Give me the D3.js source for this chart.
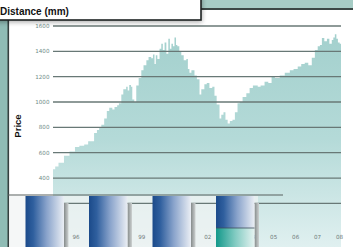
<!DOCTYPE html>
<html>
  <head>
    <script src="https://d3js.org/d3.v7.min.js"></script>
    <style>
      body { margin: 0; background: #fff; }
      svg { display: block; }
    </style>
  </head>
  <body>
    <svg width="353" height="247"></svg>
    <script>
      // price series (decimal years)
      const priceDates = [
        1995.0, 1995.1, 1995.25, 1995.5, 1995.75,
        1996.0, 1996.2, 1996.42, 1996.6, 1996.87,
        1997.0, 1997.1, 1997.2, 1997.33, 1997.45, 1997.56, 1997.7, 1997.8, 1997.92,
        1998.0, 1998.11, 1998.2, 1998.33, 1998.4, 1998.47, 1998.55, 1998.61, 1998.7, 1998.79, 1998.9,
        1999.02, 1999.12, 1999.25, 1999.35, 1999.47, 1999.55, 1999.62, 1999.68, 1999.75, 1999.85, 1999.93,
        2000.0, 2000.08, 2000.16, 2000.25, 2000.32, 2000.39, 2000.46, 2000.53, 2000.6, 2000.66, 2000.75, 2000.84, 2000.95,
        2001.07, 2001.14, 2001.21, 2001.3, 2001.44, 2001.55, 2001.67, 2001.75, 2001.89,
        2002.0, 2002.12, 2002.25, 2002.35, 2002.45, 2002.58, 2002.66, 2002.76, 2002.85, 2002.95,
        2003.05, 2003.17, 2003.28, 2003.4, 2003.5, 2003.63, 2003.8, 2003.95,
        2004.1, 2004.32, 2004.45, 2004.63, 2004.8, 2004.95,
        2005.1, 2005.32, 2005.55, 2005.78, 2005.95,
        2006.14, 2006.3, 2006.46, 2006.62, 2006.78, 2006.92,
        2007.05, 2007.15, 2007.24, 2007.35, 2007.47, 2007.58, 2007.69, 2007.76, 2007.83, 2007.9, 2007.97,
        2008.05, 2008.11
      ];
      const priceValues = [
        470, 490, 520, 575, 610,
        645, 655, 665, 690, 755,
        780, 800, 820, 870, 930, 955, 940, 960, 975,
        990, 1060, 1100, 1120, 1090, 1135, 1120, 1020, 1000, 1130, 1190,
        1250, 1290, 1330, 1355, 1345, 1375, 1300, 1370, 1340, 1420, 1460,
        1410, 1470, 1380, 1500, 1420, 1460, 1440, 1510, 1450, 1440, 1400, 1370, 1330,
        1340, 1260, 1230, 1250, 1210, 1180, 1060, 1100, 1140,
        1150, 1110, 1120, 1050, 980, 870, 900, 920, 860, 830,
        850, 860, 920, 990, 1000, 1040, 1070, 1110,
        1130, 1120, 1130, 1160, 1150, 1200,
        1190, 1210, 1230, 1250, 1260,
        1280, 1300, 1310, 1290, 1350, 1410,
        1440, 1450, 1505, 1480, 1500, 1460, 1490, 1510, 1535, 1500, 1470,
        1460, 1450
      ];
      const priceTicks = [200, 400, 600, 800, 1000, 1200, 1400, 1600];
      const yearTicks = [1995, 1996, 1997, 1998, 1999, 2000, 2001, 2002, 2003, 2004, 2005, 2006, 2007, 2008];

      // the overlaid bar strip
      const barNames = ["a", "b", "c", "d"];
      const barTotals = [100, 100, 100, 100];
      const barLower = [0, 0, 0, 50];

      const W = 353, H = 247;
      const svg = d3.select("svg");
      const defs = svg.append("defs");

      const x = d3.scaleLinear().domain([1995, 2008.11]).range([53, 341]);
      const y = d3.scaleLinear().domain([0, 1600]).range([228.7, 26]);

      const areaGrad = defs.append("linearGradient").attr("id", "areaGrad")
        .attr("gradientUnits", "userSpaceOnUse")
        .attr("x1", 0).attr("y1", 30).attr("x2", 0).attr("y2", H);
      areaGrad.append("stop").attr("offset", 0).attr("stop-color", "#a3d0cd");
      areaGrad.append("stop").attr("offset", 0.5).attr("stop-color", "#b4dad8");
      areaGrad.append("stop").attr("offset", 0.75).attr("stop-color", "#cae5e4");
      areaGrad.append("stop").attr("offset", 1).attr("stop-color", "#e0f0f0");

      const blueGrad = defs.append("linearGradient").attr("id", "blueGrad");
      blueGrad.append("stop").attr("offset", 0).attr("stop-color", "#1b4a8a");
      blueGrad.append("stop").attr("offset", 0.2).attr("stop-color", "#2f5f9e");
      blueGrad.append("stop").attr("offset", 0.55).attr("stop-color", "#89a3cb");
      blueGrad.append("stop").attr("offset", 1).attr("stop-color", "#eaeef4");

      const tealGrad = defs.append("linearGradient").attr("id", "tealGrad");
      tealGrad.append("stop").attr("offset", 0).attr("stop-color", "#12988a");
      tealGrad.append("stop").attr("offset", 0.5).attr("stop-color", "#82cbc2");
      tealGrad.append("stop").attr("offset", 1).attr("stop-color", "#e6f3f1");

      const sideGrad = defs.append("linearGradient").attr("id", "sideGrad");
      sideGrad.append("stop").attr("offset", 0).attr("stop-color", "#858b8b");
      sideGrad.append("stop").attr("offset", 1).attr("stop-color", "#cdd1d1");

      const shadow = defs.append("filter").attr("id", "shadow")
        .attr("x", "-10%").attr("y", "-10%").attr("width", "130%").attr("height", "160%");
      shadow.append("feGaussianBlur").attr("stdDeviation", 2.5);

      // frame pieces
      svg.append("rect").attr("x", 0).attr("y", 0).attr("width", W).attr("height", 9).attr("fill", "#a6ccc5");
      svg.append("rect").attr("x", 0).attr("y", 8).attr("width", W).attr("height", 2).attr("fill", "#3b4745");
      svg.append("rect").attr("x", 0).attr("y", 0).attr("width", 8).attr("height", H).attr("fill", "#8fbcb5");
      svg.append("rect").attr("x", 7.5).attr("y", 0).attr("width", 1.6).attr("height", H).attr("fill", "#34403f");

      // price area
      const data = priceDates.map((d, i) => ({ t: d, v: priceValues[i] }));
      const area = d3.area()
        .curve(d3.curveStepAfter)
        .x(d => x(d.t))
        .y0(H)
        .y1(d => y(d.v));
      svg.append("path").datum(data).attr("d", area).attr("fill", "url(#areaGrad)");

      // pale panel behind the bars
      const barX = d3.scaleBand().domain(barNames).range([25.5, 254.5]).paddingInner(0.394).paddingOuter(0);
      const barY = d3.scaleLinear().domain([0, 100]).range([260, 196]);
      svg.append("rect").attr("x", 9).attr("y", 196).attr("width", 249).attr("height", H - 196)
        .attr("fill", "#f1f3f3").attr("opacity", 0.7);

      // gridlines and price labels
      const grid = svg.append("g");
      grid.selectAll("line").data(priceTicks).join("line")
        .attr("x1", 53).attr("x2", 341)
        .attr("y1", d => y(d)).attr("y2", d => y(d))
        .attr("stroke", "#687876").attr("stroke-width", 1.3);
      grid.selectAll("text").data(priceTicks).join("text")
        .attr("x", 49.5).attr("y", d => y(d)).attr("dy", "0.35em")
        .attr("text-anchor", "end")
        .attr("font-family", "DejaVu Sans, sans-serif").attr("font-size", 5.6)
        .attr("fill", "#6f8c87")
        .text(d => d);

      svg.append("text")
        .attr("transform", "translate(21,126) rotate(-90)")
        .attr("text-anchor", "middle")
        .attr("font-family", "Liberation Sans, Arial, sans-serif").attr("font-weight", "bold")
        .attr("font-size", 9.5).attr("fill", "#111")
        .text("Price");

      // year labels
      svg.append("g").selectAll("text").data(yearTicks).join("text")
        .attr("x", d => x(d) + 1).attr("y", 239)
        .attr("text-anchor", "middle")
        .attr("font-family", "DejaVu Sans, sans-serif").attr("font-size", 5.6)
        .attr("fill", "#6f7a79")
        .text(d => String(d).slice(2));

      // bar strip
      svg.append("line").attr("x1", 8).attr("x2", 283)
        .attr("y1", barY(100) - 1).attr("y2", barY(100) - 1)
        .attr("stroke", "#59605f").attr("stroke-width", 1.2);

      const bars = svg.append("g").selectAll("g").data(barNames).join("g");
      bars.append("rect")
        .attr("x", d => barX(d) + barX.bandwidth())
        .attr("y", 203).attr("width", 4.5).attr("height", H - 203)
        .attr("fill", "url(#sideGrad)");
      bars.append("rect")
        .attr("x", d => barX(d)).attr("width", barX.bandwidth())
        .attr("y", (d, i) => barY(barTotals[i]))
        .attr("height", (d, i) => barY(barLower[i]) - barY(barTotals[i]))
        .attr("fill", "url(#blueGrad)");
      bars.filter((d, i) => barLower[i] > 0).append("rect")
        .attr("x", d => barX(d)).attr("width", barX.bandwidth())
        .attr("y", d => barY(barLower[barNames.indexOf(d)]))
        .attr("height", d => barY(0) - barY(barLower[barNames.indexOf(d)]))
        .attr("fill", "url(#tealGrad)");
      bars.filter((d, i) => barLower[i] > 0).append("line")
        .attr("x1", d => barX(d)).attr("x2", d => barX(d) + barX.bandwidth())
        .attr("y1", d => barY(barLower[barNames.indexOf(d)]))
        .attr("y2", d => barY(barLower[barNames.indexOf(d)]))
        .attr("stroke", "#3c4c5a").attr("stroke-width", 0.8);

      // title box at top left
      svg.append("rect").attr("x", -5).attr("y", -5).attr("width", 207).attr("height", 27)
        .attr("fill", "#000").attr("opacity", 0.35).attr("filter", "url(#shadow)");
      svg.append("rect").attr("x", -2).attr("y", -2).attr("width", 203).attr("height", 22)
        .attr("fill", "#fff").attr("stroke", "#1d2222").attr("stroke-width", 1.6);
      svg.append("text").attr("x", 0).attr("y", 14.5)
        .attr("font-family", "Liberation Sans, Arial, sans-serif").attr("font-weight", "bold")
        .attr("font-size", 10).attr("fill", "#111")
        .text("Distance (mm)");
    </script>
  </body>
</html>
